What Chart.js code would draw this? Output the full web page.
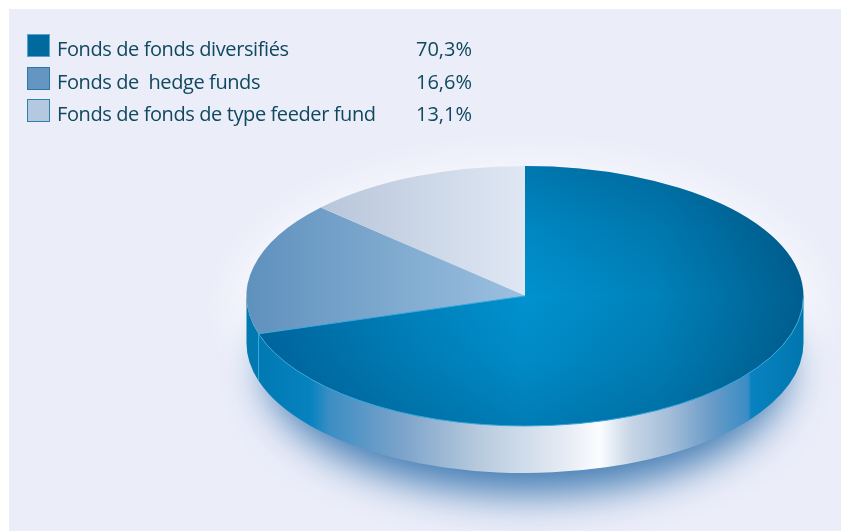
<!DOCTYPE html>
<html lang="fr">
<head>
<meta charset="utf-8">
<title>Fonds</title>
<script src="https://cdn.jsdelivr.net/npm/chart.js@4"></script>
<style>
  html, body { margin: 0; padding: 0; background: #fff; overflow: hidden; }
  #panel { position: absolute; left: 9px; top: 9px; width: 832px; height: 522px; background: #ebedf9; }
  #myChart { position: absolute; left: 0; top: 0; }
  .row { position: absolute; left: 27px; height: 24px; color: #10495f; white-space: pre;
         font: 20px "Open Sans", sans-serif; line-height: 24px; }
  .box { position: absolute; left: 0; top: 0; width: 21px; height: 21px; border: 1px solid; }
  .name { position: absolute; left: 30px; top: 3px; letter-spacing: -0.4px; }
  .val { position: absolute; left: 389px; top: 3px; }
</style>
</head>
<body>
<div id="panel"></div>
<canvas id="myChart" width="848" height="531"></canvas>
<div id="legend"></div>
<script>
const categories = ['Fonds de fonds diversifiés', 'Fonds de  hedge funds', 'Fonds de fonds de type feeder fund'];
const values = [70.3, 16.6, 13.1];
const swatchColors = ['#006a9e', '#6596c2', '#b4c9df'];
const swatchBorders = ['#5aa3cb', '#2a78aa', '#2a82b0'];

// where the disc sits on screen
const cx = 525, cy = 296, rx = 278.5, ry = 130, depth = 47;

const ctx = document.getElementById('myChart').getContext('2d');

function hGradient(x0, x1, stops) {
  const g = ctx.createLinearGradient(x0, 0, x1, 0);
  stops.forEach(s => g.addColorStop(s[0], s[1]));
  return g;
}

// the slices are drawn in chart space, so shift the gradients by the chart centre
function sliceColor(c) {
  const dx = c.chart.width / 2 - cx;
  if (c.dataIndex === 0) {
    return hGradient(cx + dx - rx, cx + dx + rx, [
      [0, '#00649c'], [0.3, '#0082bc'], [0.5, '#0092cf'], [0.74, '#0081b9'], [1, '#005e8e']
    ]);
  }
  if (c.dataIndex === 1) {
    return hGradient(cx + dx - rx, cx + dx, [[0, '#5f91bd'], [1, '#9cc0e0']]);
  }
  return hGradient(cx + dx - 205, cx + dx, [[0, '#b8c6da'], [1, '#dfe7f3']]);
}

const wallFill = hGradient(246, 804, [
  [0, '#0078b0'], [0.115, '#0682bf'], [0.15, '#3c8ec4'], [0.278, '#7ba3ca'], [0.414, '#b6c9dd'],
  [0.479, '#cad8e8'], [0.58, '#e8edf5'], [0.634, '#fbfdff'], [0.688, '#c8d6e6'], [0.76, '#a4bdd8'],
  [0.83, '#6d9dc9'], [0.9, '#3a8cc5'], [0.905, '#0882c0'], [1, '#0076ae']
]);

const pieceOfDisc = {
  id: 'pieceOfDisc',
  beforeDatasetsDraw(chart) {
    const c = chart.ctx;
    const arcs = chart.getDatasetMeta(0).data;

    // pale halo around the disc
    c.save();
    c.filter = 'blur(18px)';
    c.fillStyle = 'rgba(255,255,255,0.55)';
    c.beginPath();
    c.ellipse(cx, cy + 10, rx + 16, ry + 18, 0, 0, Math.PI * 2);
    c.fill();
    c.restore();

    // soft shadow under the disc
    c.save();
    c.filter = 'blur(20px)';
    c.fillStyle = 'rgba(45,110,170,0.9)';
    c.beginPath();
    c.ellipse(cx + 2, cy + depth + 24, rx - 18, ry - 3, 0, 0, Math.PI * 2);
    c.fill();
    c.restore();

    // side wall, one piece per slice, only for the front half
    arcs.forEach((arc, i) => {
      const start = Math.max(arc.startAngle, 0);
      const end = Math.min(arc.endAngle, Math.PI);
      if (end <= start) return;
      c.beginPath();
      c.ellipse(cx, cy, rx, ry, 0, start, end);
      c.ellipse(cx, cy + depth, rx, ry, 0, end, start, true);
      c.closePath();
      c.fillStyle = i === 0 ? wallFill : '#0078b0';
      c.fill();
    });

    // squash the round pie into the top of the disc
    c.save();
    c.translate(cx, cy);
    c.scale(1, ry / rx);
    c.translate(-arcs[0].x, -arcs[0].y);
  },
  afterDatasetsDraw(chart) {
    const c = chart.ctx;
    const first = chart.getDatasetMeta(0).data[0];

    // darker towards the top and front of the big slice
    c.beginPath();
    c.moveTo(first.x, first.y);
    c.arc(first.x, first.y, rx, first.startAngle, first.endAngle);
    c.closePath();
    const shade = c.createLinearGradient(0, first.y - rx, 0, first.y + rx);
    shade.addColorStop(0, 'rgba(0,40,80,0.26)');
    shade.addColorStop(0.25, 'rgba(0,40,80,0.1)');
    shade.addColorStop(0.5, 'rgba(0,40,80,0)');
    shade.addColorStop(0.75, 'rgba(0,40,80,0.07)');
    shade.addColorStop(1, 'rgba(0,40,80,0.2)');
    c.fillStyle = shade;
    c.fill();
    c.restore();

    // thin light seams
    const end = first.endAngle;
    const ex = cx + rx * Math.cos(end), ey = cy + ry * Math.sin(end);
    c.strokeStyle = '#3aa8de';
    c.lineWidth = 1;
    c.beginPath();
    c.ellipse(cx, cy, rx, ry, 0, 0, end);
    c.stroke();
    c.beginPath();
    c.moveTo(cx, cy);
    c.lineTo(ex, ey);
    c.stroke();
    c.beginPath();
    c.moveTo(ex, ey);
    c.lineTo(ex, ey + depth);
    c.stroke();
  }
};

new Chart(ctx, {
  type: 'pie',
  data: {
    labels: categories,
    datasets: [{
      data: values,
      backgroundColor: sliceColor,
      borderWidth: 0,
      radius: rx,
      clip: false
    }]
  },
  options: {
    responsive: false,
    animation: false,
    plugins: { legend: { display: false }, tooltip: { enabled: false } }
  },
  plugins: [pieceOfDisc]
});

// legend rows with the percentages in the french format
const legend = document.getElementById('legend');
const rowTops = [34, 67, 99];
categories.forEach((name, i) => {
  const row = document.createElement('div');
  row.className = 'row';
  row.style.top = rowTops[i] + 'px';
  const box = document.createElement('div');
  box.className = 'box';
  box.style.background = swatchColors[i];
  box.style.borderColor = swatchBorders[i];
  const label = document.createElement('div');
  label.className = 'name';
  label.textContent = name;
  const val = document.createElement('div');
  val.className = 'val';
  val.textContent = values[i].toFixed(1).replace('.', ',') + '%';
  row.append(box, label, val);
  legend.append(row);
});
</script>
</body>
</html>
